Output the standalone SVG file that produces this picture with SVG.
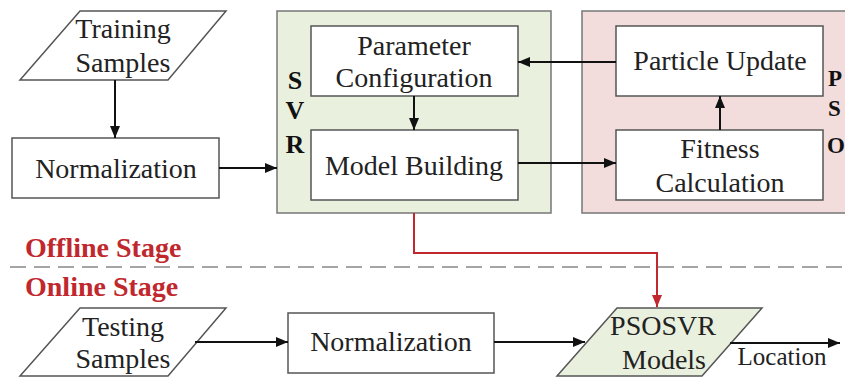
<svg xmlns="http://www.w3.org/2000/svg" width="845" height="378" viewBox="0 0 845 378">
<defs>
<marker id="ah" viewBox="0 0 12 10" refX="12" refY="5" markerWidth="12" markerHeight="10" markerUnits="userSpaceOnUse" orient="auto">
<path d="M0,0 L12,5 L0,10 z" fill="#111"/>
</marker>
<marker id="ahr" viewBox="0 0 12 10" refX="12" refY="5" markerWidth="12" markerHeight="10" markerUnits="userSpaceOnUse" orient="auto">
<path d="M0,0 L12,5 L0,10 z" fill="#c0282d"/>
</marker>
</defs>
<style>
.t{font-family:"Liberation Serif","Times New Roman",serif;font-size:28px;fill:#222;text-anchor:middle}
.b{font-family:"Liberation Serif","Times New Roman",serif;font-size:26px;font-weight:bold;fill:#111;text-anchor:middle}
.p{font-family:"Liberation Serif","Times New Roman",serif;font-size:23px;font-weight:bold;fill:#111}
.st{font-family:"Liberation Serif","Times New Roman",serif;font-size:28px;font-weight:bold;fill:#c0282d}
.box{fill:#fff;stroke:#555;stroke-width:1.5}
.c{fill:none;stroke:#111;stroke-width:2;marker-end:url(#ah)}
</style>
<rect width="845" height="378" fill="#fff"/>
<g id="svr">
<rect x="277" y="11" width="274" height="202" fill="#e9f0de" stroke="#777" stroke-width="1.5"/>
<text class="b" x="295" y="89">S</text>
<text class="b" x="295" y="119">V</text>
<text class="b" x="295" y="153">R</text>
</g>
<g id="pso">
<rect x="582" y="11" width="275" height="202" fill="#f2dcdc" stroke="#777" stroke-width="1.5"/>
<text class="p" x="828" y="86">P</text>
<text class="p" x="828" y="116">S</text>
<text class="p" x="827" y="153">O</text>
</g>
<g id="training">
<polygon class="box" points="80,11 226,11 168,80 20,80"/>
<text class="t" x="123" y="38">Training</text>
<text class="t" x="123" y="72">Samples</text>
</g>
<g id="norm1">
<rect class="box" x="12" y="138" width="207" height="60"/>
<text class="t" x="116" y="178">Normalization</text>
</g>
<g id="param">
<rect class="box" x="311" y="26" width="207" height="70"/>
<text class="t" x="414" y="55">Parameter</text>
<text class="t" x="414" y="87">Configuration</text>
</g>
<g id="model">
<rect class="box" x="311" y="130" width="207" height="70"/>
<text class="t" x="414" y="175">Model Building</text>
</g>
<g id="particle">
<rect class="box" x="616" y="26" width="207" height="70"/>
<text class="t" x="720" y="70">Particle Update</text>
</g>
<g id="fitness">
<rect class="box" x="616" y="130" width="207" height="70"/>
<text class="t" x="720" y="158">Fitness</text>
<text class="t" x="720" y="192">Calculation</text>
</g>
<g id="stages">
<line x1="10" y1="267" x2="845" y2="267" stroke="#888" stroke-width="1.5" stroke-dasharray="16,8"/>
<text class="st" x="25" y="257">Offline Stage</text>
<text class="st" x="25" y="296">Online Stage</text>
</g>
<g id="testing">
<polygon class="box" points="80,308 226,308 168,376 20,376"/>
<text class="t" x="123" y="336">Testing</text>
<text class="t" x="123" y="368">Samples</text>
</g>
<g id="norm2">
<rect class="box" x="288" y="313" width="206" height="60"/>
<text class="t" x="391" y="351">Normalization</text>
</g>
<g id="psosvr">
<polygon points="617,308 762,308 702,376 557,376" fill="#e9f0de" stroke="#555" stroke-width="1.5"/>
<text class="t" x="663" y="335">PSOSVR</text>
<text class="t" x="664" y="369">Models</text>
</g>
<text class="t" x="782" y="365" style="font-size:25px">Location</text>
<g id="connectors">
<path class="c" d="M115,80 V138"/>
<path class="c" d="M219,168 H277"/>
<path class="c" d="M414,96 V130"/>
<path class="c" d="M720,130 V96"/>
<path class="c" d="M616,62 H518"/>
<path class="c" d="M518,163 H616"/>
<path d="M414,213 V253 H657 V307" fill="none" stroke="#c0282d" stroke-width="2" marker-end="url(#ahr)"/>
<path class="c" d="M195,342 H288"/>
<path class="c" d="M494,342 H585"/>
<path class="c" d="M730,343 H840"/>
</g>
</svg>
